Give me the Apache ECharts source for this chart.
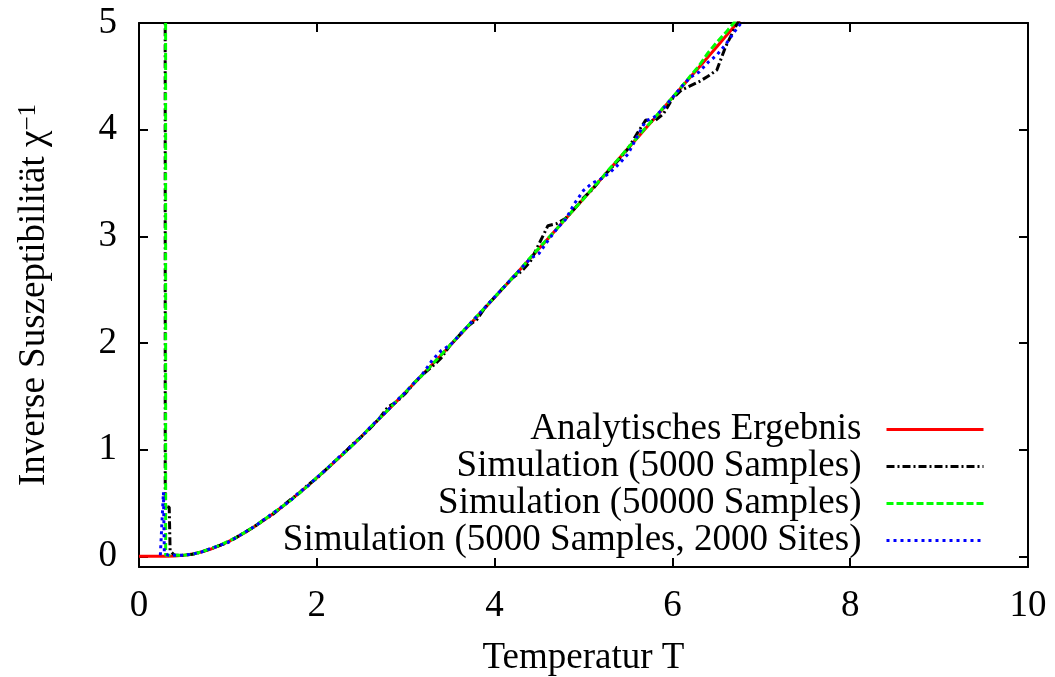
<!DOCTYPE html>
<html>
<head>
<meta charset="utf-8">
<script src="https://cdn.jsdelivr.net/npm/echarts@6/dist/echarts.min.js"></script>
<style>html,body{margin:0;padding:0;background:#fff}#c{width:1055px;height:677px}</style>
</head>
<body>
<div id="c"></div>
<script>
const temps = [0.0,0.1,0.2,0.3,0.4,0.5,0.6,0.7,0.8,0.9,
  1.0,1.1,1.2,1.3,1.4,1.5,1.6,1.7,1.8,1.9,
  2.0,2.1,2.2,2.3,2.4,2.5,2.6,2.7,2.8,2.9,
  3.0,3.1,3.2,3.3,3.4,3.5,3.6,3.7,3.8,3.9,
  4.0,4.1,4.2,4.3,4.4,4.5,4.6,4.7,4.8,4.9,
  5.0,5.1,5.2,5.3,5.4,5.5,5.6,5.7,5.8,5.9,
  6.0,6.1,6.2,6.3,6.4,6.5,6.6,6.7,6.8,6.9];

const analytic = [0,0,0,0,0.003,0.009,0.021,0.04,0.066,0.098,
  0.135,0.179,0.227,0.279,0.336,0.395,0.458,0.524,0.593,0.663,
  0.736,0.81,0.886,0.964,1.043,1.123,1.205,1.287,1.371,1.455,
  1.54,1.626,1.713,1.80,1.888,1.976,2.066,2.155,2.245,2.335,
  2.426,2.517,2.609,2.701,2.793,2.885,2.978,3.071,3.164,3.258,
  3.352,3.445,3.54,3.634,3.729,3.823,3.918,4.013,4.108,4.204,
  4.299,4.395,4.491,4.586,4.682,4.778,4.875,4.971,5.067,5.16];

const sim5000 = [null,null,null,null,0.01,0.01,0.02,0.04,0.07,0.10,
  0.13,0.18,0.23,0.28,0.34,0.39,0.46,0.53,0.59,0.67,
  0.73,0.81,0.89,0.96,1.05,1.12,1.20,1.29,1.40,1.45,
  1.53,1.63,1.71,1.78,1.86,1.98,2.07,2.16,2.22,2.34,
  2.43,2.52,2.61,2.67,2.76,2.93,3.10,3.12,3.17,3.26,
  3.36,3.44,3.54,3.63,3.72,3.82,3.96,4.09,4.08,4.15,
  4.29,4.37,4.41,4.45,4.50,4.56,4.78,4.95,5.10,5.20];
const sim5000Spike = [[0.29, 60], [0.295, 0.47], [0.34, 0.46], [0.35, 0.05]];

const sim50000 = [null,null,null,null,0.01,0.01,0.02,0.04,0.07,0.10,
  0.14,0.18,0.23,0.28,0.34,0.40,0.46,0.52,0.59,0.66,
  0.74,0.81,0.89,0.96,1.04,1.12,1.21,1.29,1.37,1.46,
  1.54,1.63,1.71,1.80,1.89,1.98,2.07,2.16,2.25,2.34,
  2.43,2.52,2.61,2.70,2.80,2.89,2.98,3.07,3.17,3.26,
  3.35,3.45,3.54,3.64,3.73,3.83,3.92,4.02,4.11,4.21,
  4.30,4.40,4.50,4.60,4.72,4.82,4.91,5.01,5.10,5.20];
const sim50000Spike = [[0.29, 80], [0.30, 0.01]];

const simSites = [null,null,null,null,0.01,0.01,0.02,0.04,0.07,0.10,
  0.13,0.18,0.23,0.28,0.34,0.40,0.46,0.52,0.60,0.66,
  0.74,0.81,0.89,0.97,1.04,1.12,1.21,1.29,1.37,1.46,
  1.54,1.63,1.72,1.84,1.93,1.98,2.07,2.16,2.25,2.34,
  2.43,2.52,2.61,2.70,2.79,2.84,2.96,3.07,3.16,3.31,
  3.43,3.50,3.54,3.60,3.68,3.77,3.93,4.08,4.12,4.20,
  4.30,4.40,4.49,4.54,4.63,4.70,4.80,4.92,5.03,5.13];
const simSitesSpike = [[0.24, 0.01], [0.275, 0.6], [0.285, 0.03], [0.33, 0.01]];

const yTicks = [0, 1, 2, 3, 4, 5];

const names = ['Analytisches Ergebnis', 'Simulation (5000 Samples)',
  'Simulation (50000 Samples)', 'Simulation (5000 Samples, 2000 Sites)'];

function pairs(values, spike) {
  const out = spike ? spike.slice() : [];
  temps.forEach((t, i) => { if (values[i] !== null) out.push([t, values[i]]); });
  return out;
}

const FONT = '"Liberation Serif", "DejaVu Serif", serif';
const FS = 37;
const chart = echarts.init(document.getElementById('c'), null, {renderer: 'canvas'});

const axisCommon = {
  axisLine: {show: true, onZero: false, lineStyle: {color: '#000', width: 2}},
  axisTick: {show: true, inside: true, length: 9, lineStyle: {color: '#000', width: 2}},
  splitLine: {show: false}
};

chart.setOption({
  animation: false,
  backgroundColor: '#fff',
  grid: {left: 139, right: 27, top: 23, bottom: 110, containLabel: false, outerBoundsMode: 'none'},
  legend: {
    orient: 'vertical', align: 'right', right: 70, top: 411, padding: 0,
    itemWidth: 97, itemHeight: 14, itemGap: 0, selectedMode: false,
    itemStyle: {opacity: 0},
    lineStyle: {width: 3},
    textStyle: {fontFamily: FONT, fontSize: FS, color: '#000', lineHeight: 36, padding: [0, 20, 0, 0]},
    data: names
  },
  xAxis: [
    Object.assign({}, axisCommon, {
      type: 'value', min: 0, max: 10, interval: 2, position: 'bottom',
      name: 'Temperatur T', nameLocation: 'middle', nameGap: 73,
      nameTextStyle: {fontFamily: FONT, fontSize: FS, color: '#000'},
      axisLabel: {show: true, margin: 21, fontFamily: FONT, fontSize: FS, color: '#000'}
    }),
    Object.assign({}, axisCommon, {
      type: 'value', min: 0, max: 10, interval: 2, position: 'top',
      axisLabel: {show: false}
    })
  ],
  yAxis: [
    Object.assign({}, axisCommon, {
      type: 'value', min: -0.1, max: 5, position: 'left',
      name: 'Inverse Suszeptibilität χ{sup|−1}', nameLocation: 'middle', nameGap: 86,
      nameTextStyle: {fontFamily: FONT, fontSize: FS, color: '#000',
        rich: {sup: {fontFamily: FONT, fontSize: 25, color: '#000', verticalAlign: 'top', lineHeight: 37, padding: [0, 0, 16, 0]}}},
      axisTick: {show: true, inside: true, length: 9, customValues: yTicks, lineStyle: {color: '#000', width: 2}},
      axisLabel: {show: true, margin: 22, fontFamily: FONT, fontSize: FS, color: '#000', customValues: yTicks}
    }),
    Object.assign({}, axisCommon, {
      type: 'value', min: -0.1, max: 5, position: 'right',
      axisTick: {show: true, inside: true, length: 9, customValues: yTicks, lineStyle: {color: '#000', width: 2}},
      axisLabel: {show: false}
    })
  ],
  series: [
    {name: names[0], type: 'line', data: pairs(analytic), showSymbol: false, symbol: 'none',
      lineStyle: {color: '#ff0000', width: 3, type: 'solid'}, itemStyle: {color: '#ff0000'}},
    {name: names[1], type: 'line', data: pairs(sim5000, sim5000Spike), showSymbol: false, symbol: 'none',
      lineStyle: {color: '#000000', width: 3, type: [8, 3, 2, 3]}, itemStyle: {color: '#000000'}},
    {name: names[2], type: 'line', data: pairs(sim50000, sim50000Spike), showSymbol: false, symbol: 'none',
      lineStyle: {color: '#00ff00', width: 3, type: [7, 3]}, itemStyle: {color: '#00ff00'}},
    {name: names[3], type: 'line', data: pairs(simSites, simSitesSpike), showSymbol: false, symbol: 'none',
      lineStyle: {color: '#0000ff', width: 3, type: [3, 4]}, itemStyle: {color: '#0000ff'}}
  ]
});
</script>
</body>
</html>
